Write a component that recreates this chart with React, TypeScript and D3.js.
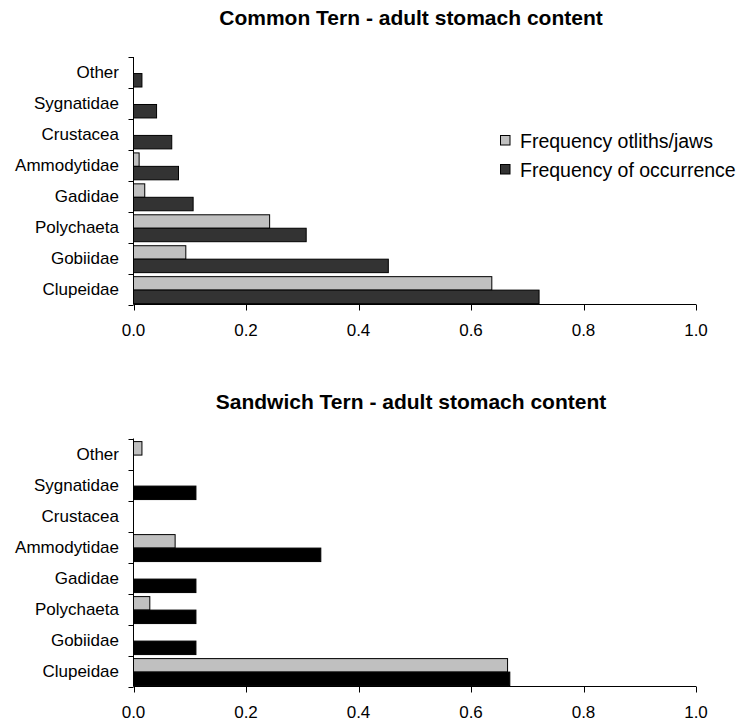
import React from "react";
import * as d3 from "d3";

const categories = ["Clupeidae", "Gobiidae", "Polychaeta", "Gadidae", "Ammodytidae", "Crustacea", "Sygnatidae", "Other"];
const xTicks = [0, 0.2, 0.4, 0.6, 0.8, 1.0];
const seriesNames = ["Frequency otliths/jaws", "Frequency of occurrence"];

const commonOtoliths = [0.637, 0.093, 0.242, 0.020, 0.010, 0, 0, 0];
const commonOccurrence = [0.721, 0.453, 0.307, 0.106, 0.080, 0.068, 0.041, 0.015];
const sandwichOtoliths = [0.665, 0, 0.029, 0, 0.074, 0, 0, 0.015];
const sandwichOccurrence = [0.669, 0.111, 0.111, 0.111, 0.333, 0, 0.111, 0];

const FONT = "'Liberation Sans', Arial, sans-serif";
const LIGHT = "#c0c0c0";

type PanelProps = {
  title: string;
  titleY: number;
  top: number;
  bottom: number;
  light: number[];
  dark: number[];
  darkColor: string;
};

function Panel({ title, titleY, top, bottom, light, dark, darkColor }: PanelProps) {
  const x = d3.scaleLinear().domain([0, 1]).range([133.5, 696]);
  const order = [...categories].reverse(); // top to bottom
  const y = d3.scaleBand<string>().domain(order).range([top, bottom]).padding(0);
  const bw = y.bandwidth();
  const barH = bw * 0.435;
  const x0 = x(0);
  return (
    <g>
      <text x={411} y={titleY} textAnchor="middle" fontFamily={FONT} fontWeight="bold" fontSize={21} fill="#000">
        {title}
      </text>
      {order.map((c) => {
        const i = categories.indexOf(c);
        const by = y(c)!;
        const lv = light[i];
        const dv = dark[i];
        return (
          <g key={c}>
            {lv > 0 && (
              <rect x={x0} y={by + bw * 0.1} width={x(lv) - x0} height={barH} fill={LIGHT} stroke="#000" strokeWidth={1} />
            )}
            {dv > 0 && (
              <rect x={x0} y={by + bw * 0.1 + barH} width={x(dv) - x0} height={barH} fill={darkColor} stroke="#000" strokeWidth={1} />
            )}
            <text x={119} y={by + bw / 2} textAnchor="end" dominantBaseline="central" fontFamily={FONT} fontSize={17} fill="#000">
              {c}
            </text>
          </g>
        );
      })}
      {/* y axis */}
      <line x1={x0} x2={x0} y1={top} y2={bottom} stroke="#000" strokeWidth={1} />
      {[...order.map((c) => y(c)!), bottom].map((v, k) => (
        <line key={k} x1={x0 - 5} x2={x0} y1={Math.round(v) + 0.5} y2={Math.round(v) + 0.5} stroke="#000" strokeWidth={1} />
      ))}
      {/* x axis */}
      <line x1={x0} x2={x(1)} y1={bottom} y2={bottom} stroke="#000" strokeWidth={1} />
      {xTicks.map((t) => (
        <g key={t}>
          <line x1={Math.round(x(t)) + 0.5} x2={Math.round(x(t)) + 0.5} y1={bottom} y2={bottom + 6} stroke="#000" strokeWidth={1} />
          <text x={x(t)} y={bottom + 31} textAnchor="middle" fontFamily={FONT} fontSize={17} fill="#000">
            {d3.format(".1f")(t)}
          </text>
        </g>
      ))}
    </g>
  );
}

export default function App() {
  return (
    <svg width={741} height={722} style={{ position: "absolute", left: 0, top: 0, background: "#fff" }}>
      <rect width={741} height={722} fill="#fff" />
      <Panel
        title="Common Tern - adult stomach content"
        titleY={25}
        top={57}
        bottom={304.5}
        light={commonOtoliths}
        dark={commonOccurrence}
        darkColor="#333333"
      />
      <Panel
        title="Sandwich Tern - adult stomach content"
        titleY={409}
        top={438.5}
        bottom={686.5}
        light={sandwichOtoliths}
        dark={sandwichOccurrence}
        darkColor="#000000"
      />
      {/* legend */}
      {seriesNames.map((s, k) => (
        <g key={s}>
          <rect x={500.5} y={135.5 + k * 29} width={9.5} height={9.5} fill={k === 0 ? LIGHT : "#333333"} stroke="#000" strokeWidth={1} />
          <text x={520} y={147.5 + k * 29.5} fontFamily={FONT} fontSize={19.5} fill="#000">
            {s}
          </text>
        </g>
      ))}
    </svg>
  );
}
